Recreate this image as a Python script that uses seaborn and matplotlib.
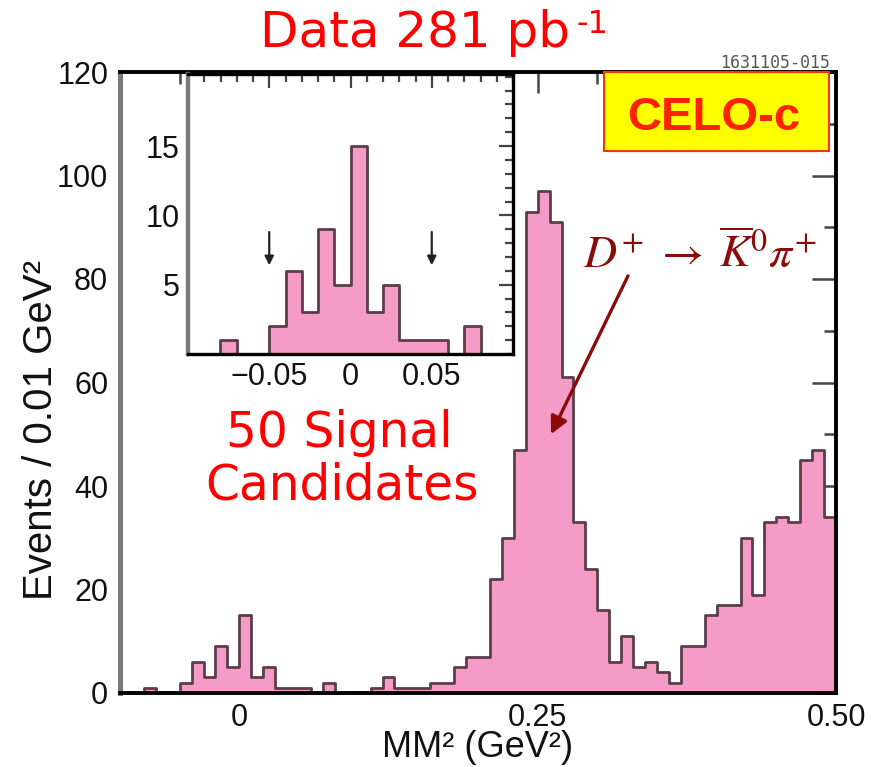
import numpy as np
import pandas as pd
import matplotlib
matplotlib.use("Agg")
import matplotlib.pyplot as plt
from matplotlib.patches import Rectangle
from matplotlib.ticker import FixedLocator, MultipleLocator
import seaborn as sns

# Missing-mass-squared spectrum, 0.01 GeV^2 bins from -0.10 to 0.50 GeV^2
bin_width = 0.01
bin_range = (-0.10, 0.50)
bin_low = np.round(np.arange(-0.10, 0.50 - 1e-9, bin_width), 2)
events = [0, 0, 1, 0, 0, 2, 6, 3, 9, 5,
          15, 3, 5, 1, 1, 1, 0, 2, 0, 0,
          0, 1, 3, 1, 1, 1, 2, 2, 5, 7,
          7, 22, 30, 47, 93, 97, 91, 61, 33, 24,
          16, 6, 11, 5, 6, 4, 2, 9, 9, 15,
          17, 17, 30, 19, 33, 34, 33, 45, 47, 34]

x_ticks = [0.0, 0.25, 0.50]
x_tick_labels = ["0", "0.25", "0.50"]
y_ticks = [0, 20, 40, 60, 80, 100, 120]
inset_x_ticks = [-0.05, 0.0, 0.05]
inset_x_tick_labels = ["\u22120.05", "0", "0.05"]
inset_y_ticks = [5, 10, 15]
signal_window = [-0.05, 0.05]

PINK = "#f59bc8"
EDGE = "#5c3d4a"
RED = "#ff0000"
MAROON = "#8b0a0a"

sns.set_theme(style="white")
plt.rcParams["font.family"] = ["Liberation Sans", "DejaVu Sans"]

df = pd.DataFrame({"mm2": bin_low + bin_width / 2, "events": events})

W, H = 884, 767
fig = plt.figure(figsize=(W / 100, H / 100), dpi=100)


def fx(px):
    return px / W


def fy(py):
    return 1 - py / H


def draw_hist(axis):
    sns.histplot(data=df, x="mm2", weights="events", binwidth=bin_width,
                 binrange=bin_range, element="step", fill=True,
                 facecolor=PINK, edgecolor=EDGE, linewidth=2.0, alpha=1.0,
                 ax=axis)
    axis.set_xlabel("")
    axis.set_ylabel("")


def style_spines(axis, lw):
    for side in ["top", "right", "bottom"]:
        axis.spines[side].set_color("black")
        axis.spines[side].set_linewidth(lw)
        axis.spines[side].set_zorder(5)
    axis.spines["left"].set_color("#7a7a7a")
    axis.spines["left"].set_linewidth(lw + 0.8)
    axis.spines["left"].set_zorder(5)


# ---- main panel ----
ax = fig.add_axes([fx(120), fy(693), 716 / W, 621 / H])
draw_hist(ax)
ax.set_xlim(-0.10, 0.50)
ax.set_ylim(0, 120)
ax.xaxis.set_major_locator(FixedLocator(x_ticks))
ax.set_xticklabels(x_tick_labels)
ax.xaxis.set_minor_locator(MultipleLocator(0.05))
ax.yaxis.set_major_locator(FixedLocator(y_ticks))
ax.yaxis.set_minor_locator(MultipleLocator(10))
ax.tick_params(which="both", direction="in", top=True, right=True,
               color="#444444", labelcolor="#111111", labelsize=22, width=1.8)
ax.tick_params(axis="y", which="major", length=17, pad=8.5)
ax.tick_params(axis="x", which="major", length=15, pad=7)
ax.tick_params(which="minor", length=8.5)
style_spines(ax, 2.8)

# decay label with arrow to the peak
ax.annotate("", xy=(0.2612, 50.0), xytext=(0.3257, 80.6),
            arrowprops=dict(arrowstyle="-|>", color=MAROON, lw=2.4,
                            mutation_scale=26, shrinkA=0, shrinkB=0))
ax.text(0.288, 82.1, r"$D^{+}\;\rightarrow\;\overline{K}^{0}\pi^{+}$",
        math_fontfamily="stix", fontsize=33, color=MAROON,
        ha="left", va="baseline")

# ---- inset: zoom on the signal region ----
axin = fig.add_axes([fx(188), fy(354), 325 / W, 280 / H])
axin.set_zorder(3)
draw_hist(axin)
axin.set_xlim(-0.10, 0.10)
axin.set_ylim(0, 20.2)
axin.xaxis.set_major_locator(FixedLocator(inset_x_ticks))
axin.set_xticklabels(inset_x_tick_labels)
axin.xaxis.set_minor_locator(MultipleLocator(0.01))
axin.yaxis.set_major_locator(FixedLocator(inset_y_ticks))
axin.yaxis.set_minor_locator(MultipleLocator(1))
axin.tick_params(which="both", direction="in", top=True, right=True,
                 color="#444444", labelcolor="#111111", labelsize=22, width=1.6)
axin.tick_params(which="major", length=10, pad=6)
axin.tick_params(which="minor", length=5.5)
style_spines(axin, 2.4)

for xv in signal_window:
    axin.annotate("", xy=(xv, 6.4), xytext=(xv, 8.8),
                  arrowprops=dict(arrowstyle="-|>", color="#222222", lw=1.6,
                                  mutation_scale=13, shrinkA=0, shrinkB=0))

# ---- axis titles ----
fig.text(fx(478), fy(757), "MM\u00b2 (GeV\u00b2)", fontsize=26, color="#111111",
         ha="center", va="baseline")
fig.text(fx(52), fy(430), "Events / 0.01 GeV\u00b2", fontsize=29, color="#111111",
         rotation=90, rotation_mode="anchor", ha="center", va="baseline")

# ---- red captions ----
fig.text(fx(260), fy(47), "Data 281 pb", fontsize=36, color=RED,
         family="DejaVu Sans", ha="left", va="baseline")
fig.text(fx(576), fy(33), "-1", fontsize=23, color=RED,
         family="DejaVu Sans", ha="left", va="baseline")
fig.text(fx(339), fy(447), "50 Signal", fontsize=35, color=RED,
         family="DejaVu Sans", ha="center", va="baseline")
fig.text(fx(342), fy(500), "Candidates", fontsize=35, color=RED,
         family="DejaVu Sans", ha="center", va="baseline")

# ---- experiment badge and figure id ----
badge = Rectangle((fx(604), fy(151)), 225 / W, 79 / H, transform=fig.transFigure,
                  facecolor="#ffff00", edgecolor="#ff3300", linewidth=1.5,
                  zorder=10)
fig.add_artist(badge)
fig.text(fx(714), fy(130), "CELO-c", fontsize=34, fontweight="bold",
         color="#ff2200", ha="center", va="baseline", zorder=11)
fig.text(fx(830), fy(68), "1631105-015", fontsize=12, color="#555555",
         family="DejaVu Sans Mono", ha="right", va="baseline")

fig.savefig("out.png", dpi=100)
